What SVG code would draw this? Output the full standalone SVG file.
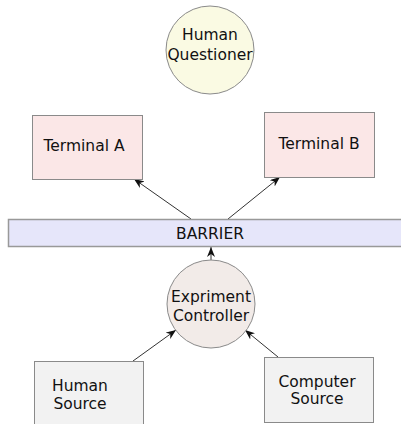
<svg xmlns="http://www.w3.org/2000/svg" width="401" height="424" viewBox="0 0 401 424">
<defs>
<style>
text{font-family:"DejaVu Sans",Verdana,sans-serif;font-size:15.5px;fill:#111;text-anchor:middle}
.n{stroke:#8a8a8a;stroke-width:1}
.c{stroke:#333;stroke-width:1;fill:none;marker-end:url(#ah)}
</style>
<marker id="ah" viewBox="0 0 10 8" refX="10" refY="4" markerWidth="10" markerHeight="8" markerUnits="userSpaceOnUse" orient="auto">
<path d="M0,0 L10,4 L0,8 L3,4 Z" fill="#111"/>
</marker>
</defs>
<rect width="401" height="424" fill="#fff"/>
<g id="connectors">
<line class="c" x1="191" y1="219" x2="134" y2="179"/>
<line class="c" x1="228" y1="219" x2="280" y2="177"/>
<line class="c" x1="211" y1="261" x2="211" y2="247"/>
<line class="c" x1="133" y1="361" x2="176" y2="330"/>
<line class="c" x1="278" y1="357" x2="245" y2="330"/>
</g>
<g id="human-questioner">
<circle class="n" cx="210" cy="50" r="44" fill="#fafae3"/>
<text x="210" y="40">Human</text>
<text x="210" y="60">Questioner</text>
</g>
<g id="terminal-a">
<rect class="n" x="32.5" y="115.5" width="110" height="64" fill="#fbe7e7"/>
<text x="84" y="151">Terminal A</text>
</g>
<g id="terminal-b">
<rect class="n" x="264.5" y="112.5" width="110" height="65" fill="#fbe7e7"/>
<text x="319" y="149">Terminal B</text>
</g>
<g id="barrier">
<rect x="8.5" y="219.5" width="400" height="27" fill="#e6e6fa" stroke="#999" stroke-width="1.5"/>
<text x="210" y="239">BARRIER</text>
</g>
<g id="experiment-controller">
<circle class="n" cx="211" cy="304" r="44" fill="#f2ebe8"/>
<text x="211" y="302">Expriment</text>
<text x="211" y="321">Controller</text>
</g>
<g id="human-source">
<rect class="n" x="34.5" y="361.5" width="109" height="70" fill="#f2f2f2"/>
<text x="80" y="391">Human</text>
<text x="80" y="409">Source</text>
</g>
<g id="computer-source">
<rect class="n" x="264.5" y="357.5" width="109" height="65" fill="#f2f2f2"/>
<text x="317" y="387">Computer</text>
<text x="317" y="404">Source</text>
</g>
</svg>
